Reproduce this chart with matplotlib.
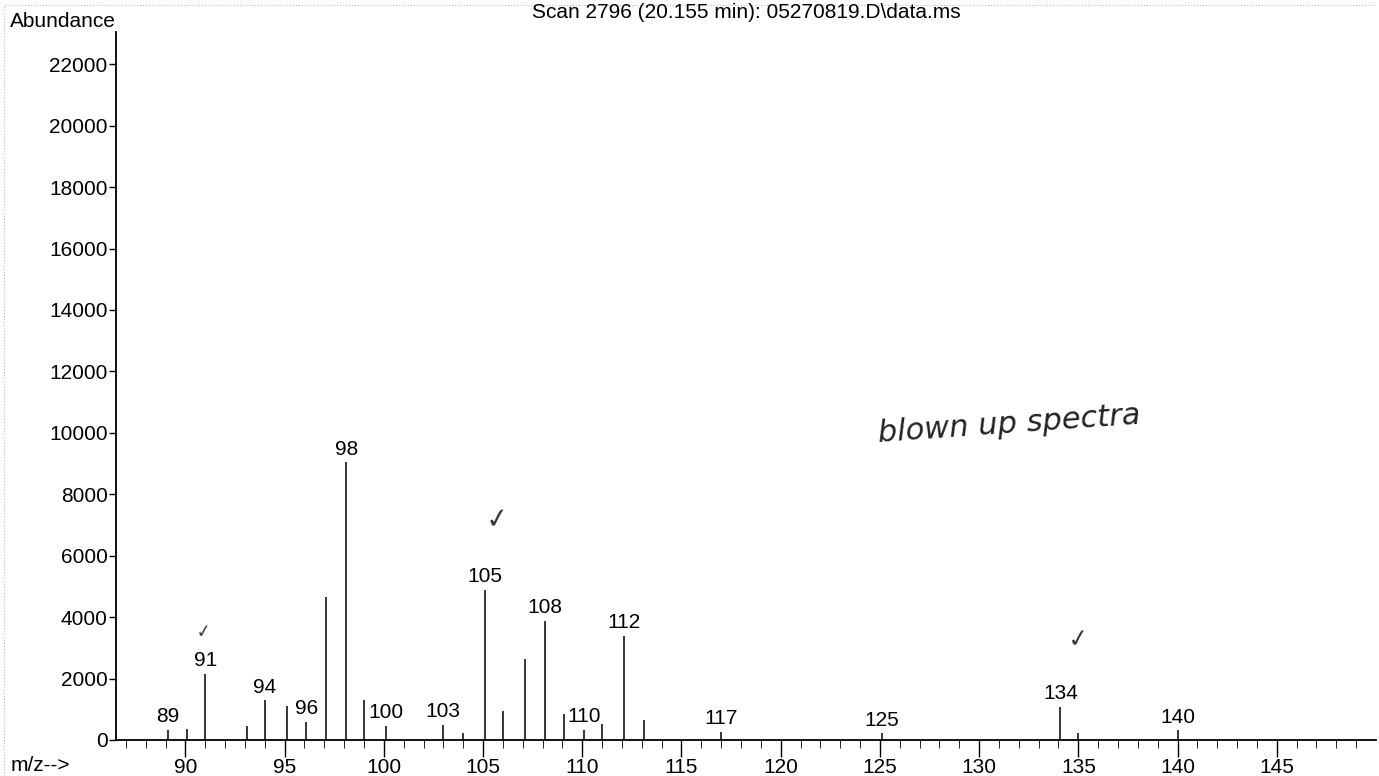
import numpy as np
import matplotlib.pyplot as plt

plt.rcParams['font.family'] = ['Liberation Sans', 'DejaVu Sans']

# m/z values and abundances
mz = [89.1, 90.1, 91.0, 93.1, 94.0, 95.1, 96.1, 97.1, 98.1, 99.0, 100.1,
      103.0, 104.0, 105.1, 106.0, 107.1, 108.1, 109.1, 110.1, 111.0, 112.1,
      113.1, 117.0, 125.1, 134.1, 135.0, 140.0]
abundance = [330, 360, 2150, 470, 1290, 1110, 590, 4640, 9040, 1310, 455,
             500, 240, 4880, 945, 2640, 3870, 855, 325, 520, 3400,
             650, 260, 220, 1080, 220, 315]
labelled = [89, 91, 94, 96, 98, 100, 103, 105, 108, 110, 112, 117, 125, 134, 140]

yticks = np.arange(0, 22001, 2000)
xticks = np.arange(90, 146, 5)

fig = plt.figure(figsize=(13.79, 7.76), dpi=100)
ax = fig.add_axes([0.0841, 0.0464, 0.9137, 0.9124])

ax.vlines(mz, 0, abundance, color='black', linewidth=1.1)
for m, a in zip(mz, abundance):
    if round(m) in labelled:
        ax.text(m, a + 120, str(round(m)), ha='center', va='bottom', fontsize=15)

ax.set_xlim(86.5, 150)
ax.set_ylim(0, 23050)
ax.set_yticks(yticks)
ax.set_xticks(xticks)
ax.set_xticks(np.arange(87, 150, 1), minor=True)
ax.tick_params(axis='both', labelsize=15, direction='out', width=1)
ax.tick_params(axis='x', which='major', length=12, pad=1)
ax.tick_params(axis='x', which='minor', length=6)
ax.tick_params(axis='y', which='major', length=5, pad=1)
for s in ['top', 'right']:
    ax.spines[s].set_visible(False)
ax.spines['left'].set_linewidth(1.3)
ax.spines['bottom'].set_linewidth(1.3)

fig.text(0.0073, 0.972, 'Abundance', fontsize=15, va='center')
fig.text(0.0073, 0.014, 'm/z-->', fontsize=15, va='center')
fig.text(0.541, 0.984, 'Scan 2796 (20.155 min): 05270819.D\\data.ms',
         fontsize=15, ha='center', va='center')

# handwritten notes on the printout
fig.text(0.636, 0.43, 'blown up spectra', fontsize=22, style='italic',
         family='DejaVu Sans', color='#222222', rotation=4, ha='left')
for x, y, s in [(0.141, 0.178, 13), (0.351, 0.318, 20), (0.773, 0.165, 18)]:
    fig.text(x, y, '\u2713', fontsize=s, family='DejaVu Sans', color='#333333',
             rotation=8)

# scan page edge
fig.add_artist(plt.Line2D([0.003, 0.997], [0.994, 0.994], color='#bbbbbb',
                          linewidth=0.8, linestyle=':'))
fig.add_artist(plt.Line2D([0.003, 0.003], [0.0, 0.994], color='#bbbbbb',
                          linewidth=0.8, linestyle=':'))

fig.savefig('out.png', dpi=100)
